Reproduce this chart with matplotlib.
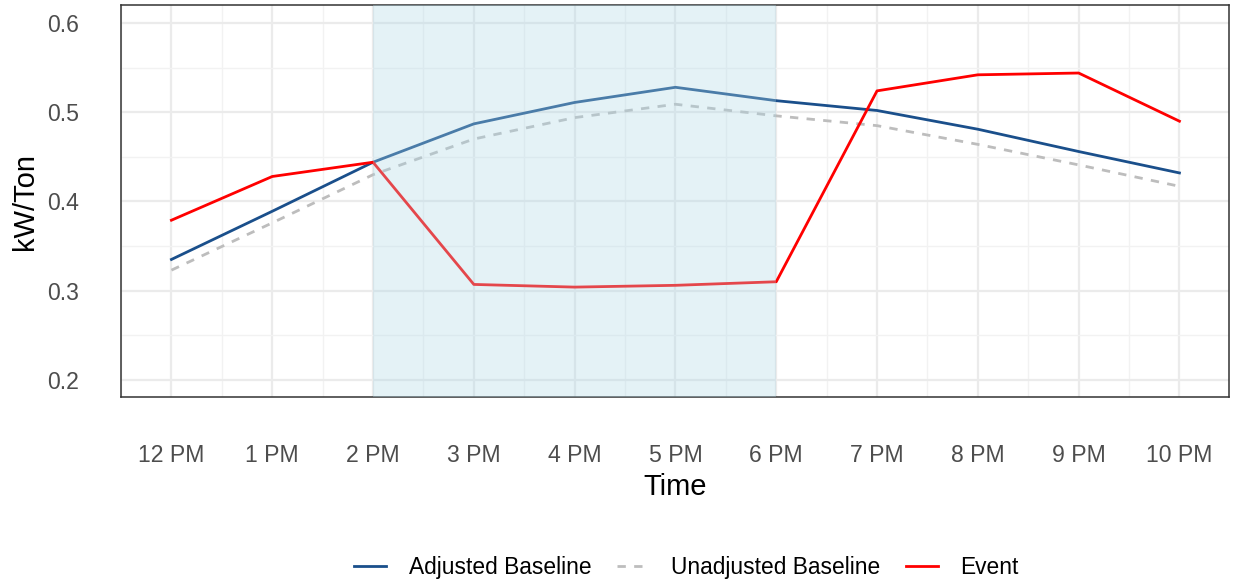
import numpy as np
import matplotlib.pyplot as plt
from matplotlib.ticker import MultipleLocator

plt.rcParams['font.family'] = ['Liberation Sans', 'DejaVu Sans']

# Data
hours = [0, 1, 2, 3, 4, 5, 6, 7, 8, 9, 10]
hour_labels = ["12 PM", "1 PM", "2 PM", "3 PM", "4 PM", "5 PM",
               "6 PM", "7 PM", "8 PM", "9 PM", "10 PM"]
adjusted = [0.335, 0.389, 0.444, 0.487, 0.511, 0.528, 0.513, 0.502, 0.481, 0.456, 0.432]
unadjusted = [0.323, 0.376, 0.430, 0.470, 0.494, 0.509, 0.496, 0.485, 0.464, 0.441, 0.417]
event = [0.379, 0.428, 0.444, 0.307, 0.304, 0.306, 0.310, 0.524, 0.542, 0.544, 0.490]
event_window = (2, 6)

fig = plt.figure(figsize=(12.35, 5.81), dpi=100)
ax = fig.add_axes([0.098, 0.317, 0.897, 0.674])

ax.plot(hours, adjusted, color="#1a4f8b", lw=2.0, label="Adjusted Baseline", zorder=3)
ax.plot(hours, unadjusted, color="#bdbdbd", lw=2.0, ls=(0, (3, 3)),
        label="Unadjusted Baseline", zorder=3)
ax.plot(hours, event, color="#ff0000", lw=2.0, label="Event", zorder=3)

# shaded event window sits on top of the lines, like in the original
ax.axvspan(event_window[0], event_window[1], color="#add8e6", alpha=0.33, lw=0, zorder=4)

ax.set_xlim(-0.5, 10.49)
ax.set_xticks(hours)
ax.set_xticklabels(hour_labels)
ax.xaxis.set_minor_locator(MultipleLocator(0.5))
ax.yaxis.set_major_locator(MultipleLocator(0.1))
ax.yaxis.set_minor_locator(MultipleLocator(0.05))
ax.set_ylim(0.181, 0.62)
ax.yaxis.set_major_formatter(plt.FormatStrFormatter("%.1f"))

ax.grid(which="major", color="#ebebeb", lw=1.6, zorder=0)
ax.grid(which="minor", color="#f2f2f2", lw=1.0, zorder=0)
ax.set_axisbelow(True)
ax.tick_params(which="both", length=0)
ax.tick_params(axis="x", pad=34, labelsize=16.6, labelcolor="#4d4d4d")
ax.tick_params(axis="y", pad=30, labelsize=16.6, labelcolor="#4d4d4d")
for s in ax.spines.values():
    s.set_color("#333333")
    s.set_linewidth(1.1)

ax.set_xlabel("Time", fontsize=21, labelpad=4)
ax.set_ylabel("kW/Ton", fontsize=21, labelpad=6)

fig.legend(loc="center", bbox_to_anchor=(0.556, 0.023), ncol=3, frameon=False,
           fontsize=16.4, handlelength=1.4, columnspacing=1.1, handletextpad=1.0)

plt.savefig("out.png", dpi=100)
